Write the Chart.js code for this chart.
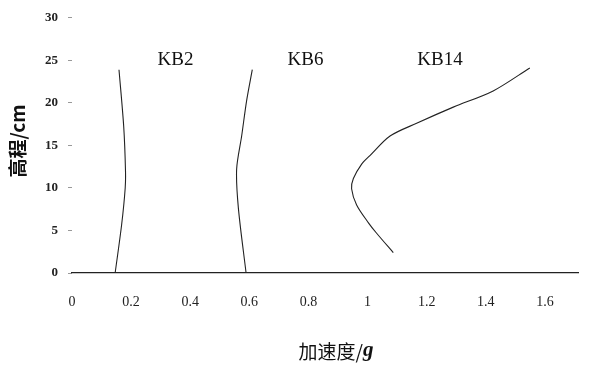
<!DOCTYPE html>
<html>
<head>
<meta charset="utf-8">
<script src="https://cdn.jsdelivr.net/npm/chart.js@4/dist/chart.umd.min.js"></script>
<style>
  html, body { margin: 0; padding: 0; background: #fff; }
  #wrap { width: 591px; height: 366px; position: relative; }
</style>
</head>
<body>
<div id="wrap"><canvas id="c" width="591" height="366"></canvas></div>
<script>
// series names and where their labels sit (data units)
const seriesNames = ['KB2', 'KB6', 'KB14'];
const labelX = [0.35, 0.79, 1.245];
const labelY = [25.0, 25.0, 25.0];

// acceleration (g) vs height (cm)
const kb2Acc = [0.146, 0.168, 0.180, 0.181, 0.175, 0.159];
const kb2Height = [0, 5.7, 10, 12, 17.2, 23.9];

const kb6Acc = [0.589, 0.563, 0.557, 0.574, 0.591, 0.610];
const kb6Height = [0, 7.6, 12.2, 16.1, 20.3, 23.9];

const kb14Acc = [1.087, 1.030, 1.003, 0.963, 0.946, 0.952, 0.980, 1.008, 1.076, 1.166, 1.290, 1.425, 1.549];
const kb14Height = [2.4, 4.7, 5.9, 8.0, 9.9, 11.1, 12.8, 13.8, 16.1, 17.6, 19.5, 21.4, 24.1];

const xTicks = [0, 0.2, 0.4, 0.6, 0.8, 1, 1.2, 1.4, 1.6];
const yTicks = [0, 5, 10, 15, 20, 25, 30];

function toPoints(xs, ys) {
  return xs.map((x, i) => ({ x: x, y: ys[i] }));
}

const seriesData = [
  toPoints(kb2Acc, kb2Height),
  toPoints(kb6Acc, kb6Height),
  toPoints(kb14Acc, kb14Height)
];

const serif = '"Liberation Serif", "DejaVu Serif", serif';

// draws the curve labels and the two axis titles
const textPlugin = {
  id: 'texts',
  afterDraw(chart) {
    const ctx = chart.ctx;
    const xs = chart.scales.x, ys = chart.scales.y;
    ctx.save();
    ctx.fillStyle = '#111';
    ctx.font = '19px ' + serif;
    ctx.textAlign = 'center';
    ctx.textBaseline = 'middle';
    seriesNames.forEach((n, i) => {
      ctx.fillText(n, xs.getPixelForValue(labelX[i]), ys.getPixelForValue(labelY[i]));
    });

    // x title: 加速度/g with italic g
    ctx.textAlign = 'left';
    ctx.font = '19px "Noto Sans CJK SC"';
    const part1 = '加速度/';
    const w1 = ctx.measureText(part1).width;
    ctx.font = 'italic bold 21px ' + serif;
    const w2 = ctx.measureText('g').width;
    const startX = 336 - (w1 + w2) / 2;
    ctx.font = '19px "Noto Sans CJK SC"';
    ctx.fillText(part1, startX, 352);
    ctx.font = 'italic bold 21px ' + serif;
    ctx.fillText('g', startX + w1, 351);

    // y title, rotated
    ctx.translate(18, 141);
    ctx.rotate(-Math.PI / 2);
    ctx.textAlign = 'center';
    ctx.font = 'bold 19px "Noto Sans CJK SC"';
    ctx.fillText('高程/cm', 0, 0);
    ctx.restore();
  }
};

new Chart(document.getElementById('c'), {
  type: 'scatter',
  data: {
    datasets: seriesData.map((d, i) => ({
      label: seriesNames[i],
      data: d,
      showLine: true,
      borderColor: '#222',
      borderWidth: 1.1,
      pointRadius: 0,
      tension: 0.3,
      fill: false
    }))
  },
  options: {
    responsive: false,
    animation: false,
    layout: { padding: { top: 12, right: 13, left: 0, bottom: 0 } },
    plugins: { legend: { display: false }, tooltip: { enabled: false } },
    scales: {
      x: {
        type: 'linear',
        min: 0,
        max: 1.712,
        afterBuildTicks: s => { s.ticks = xTicks.map(v => ({ value: v })); },
        afterFit: s => { s.height = 93; },
        grid: { display: false },
        border: { display: true, color: '#222', width: 1.3 },
        ticks: {
          color: '#222',
          padding: 13,
          font: { family: serif, size: 14 },
          callback: v => String(v)
        }
      },
      y: {
        type: 'linear',
        min: 0,
        max: 30,
        afterBuildTicks: s => { s.ticks = yTicks.map(v => ({ value: v })); },
        afterFit: s => { s.width = 72; },
        grid: { drawOnChartArea: false, tickLength: 4, color: '#999' },
        border: { display: false },
        ticks: {
          color: '#222',
          padding: 10,
          font: { family: serif, size: 13, weight: 'bold' }
        }
      }
    }
  },
  plugins: [textPlugin]
});
</script>
</body>
</html>
